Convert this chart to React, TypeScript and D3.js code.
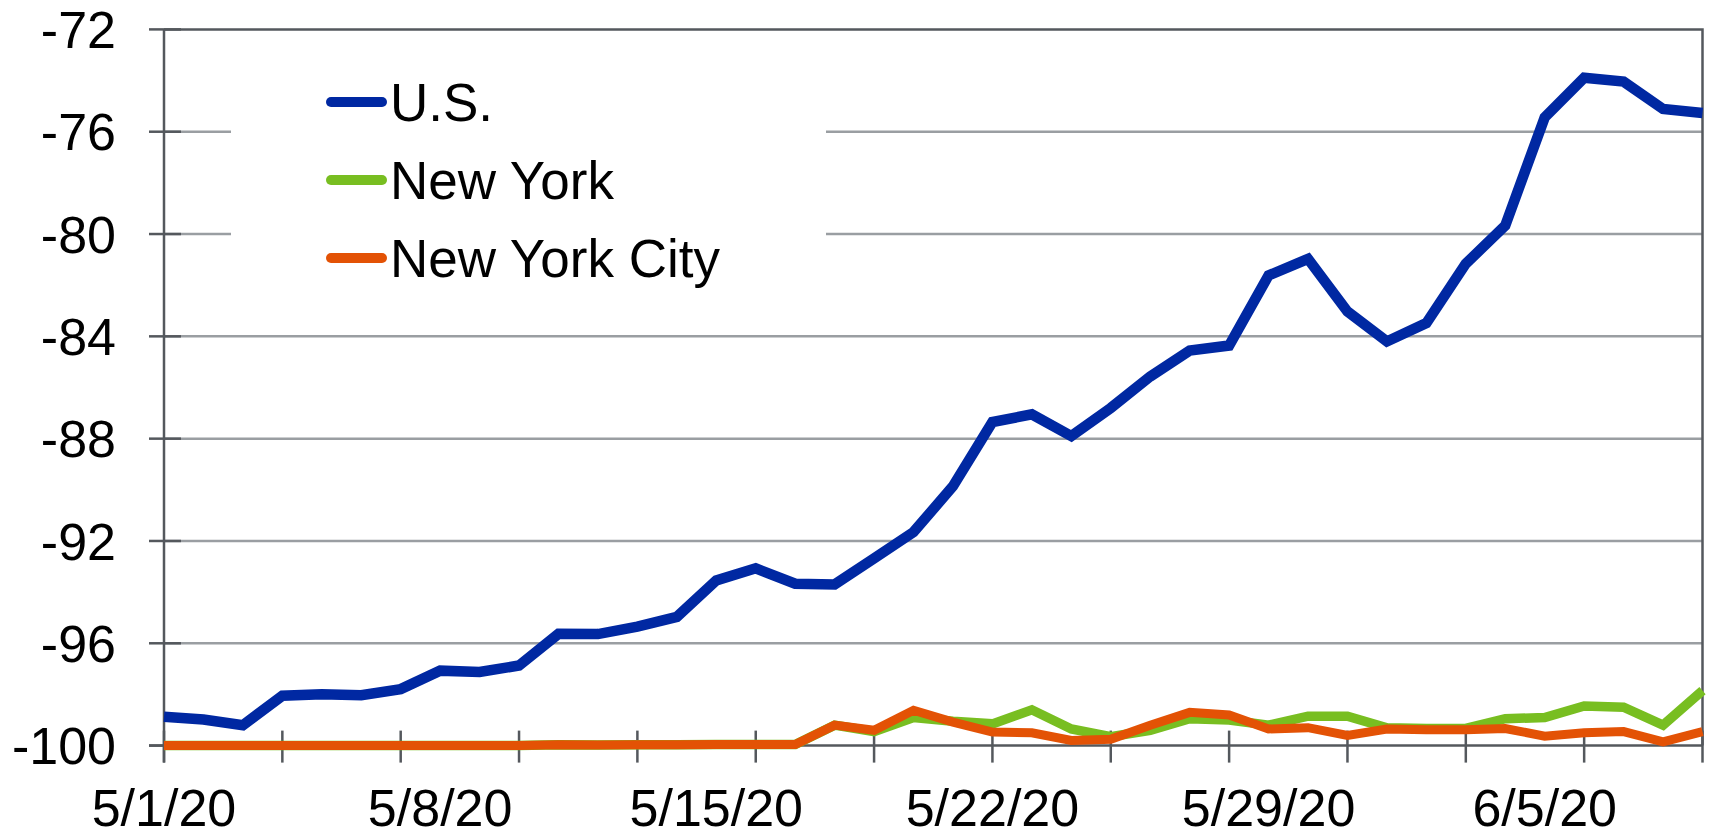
import * as d3 from "d3";
import { useEffect, useRef } from "react";

// days from 5/1/20 through 6/9/20
const startDate = new Date(Date.UTC(2020, 4, 1));
const dayCount = 40;

const seriesNames = ["U.S.", "New York", "New York City"];
const seriesColors = ["#0028A2", "#78BE21", "#E35205"];
const seriesWidths = [10.5, 9.5, 9];

const usValues = [
  -98.87, -98.98, -99.2, -98.05, -97.99, -98.03, -97.79, -97.07, -97.12, -96.87,
  -95.63, -95.64, -95.35, -94.97, -93.54, -93.07, -93.67, -93.7, -92.68, -91.65,
  -89.86, -87.35, -87.05, -87.9, -86.8, -85.57, -84.56, -84.36, -81.62, -80.97,
  -83.03, -84.2, -83.48, -81.16, -79.67, -75.44, -73.89, -74.04, -75.11, -75.27,
];

const nyValues = [
  -100, -100, -100, -100, -100, -100, -100, -100, -100, -100,
  -99.97, -99.98, -99.97, -99.97, -99.96, -99.96, -99.96, -99.2, -99.45, -98.9,
  -99.05, -99.15, -98.6, -99.35, -99.65, -99.4, -98.95, -99.0, -99.2, -98.85,
  -98.85, -99.3, -99.33, -99.33, -98.95, -98.9, -98.45, -98.5, -99.2, -97.85,
];

const nycValues = [
  -100, -100, -100, -100, -100, -100, -100, -100, -100, -100,
  -99.97, -99.98, -99.97, -99.97, -99.96, -99.96, -99.96, -99.2, -99.4, -98.62,
  -99.08, -99.47, -99.5, -99.8, -99.75, -99.2, -98.7, -98.8, -99.35, -99.3,
  -99.6, -99.35, -99.38, -99.38, -99.33, -99.63, -99.5, -99.45, -99.85, -99.45,
];

const yTicks = [-100, -96, -92, -88, -84, -80, -76, -72];

export default function App() {
  const ref = useRef<SVGSVGElement>(null);

  useEffect(() => {
    drawChart();
  }, []);

  function drawChart() {
    const svg = d3.select(ref.current);
    svg.selectAll("*").remove();

    const width = 1709;
    const height = 833;
    const left = 164;
    const right = 1702.5;
    const top = 29.4;
    const bottom = 745.6;
    const font = "'Liberation Sans', Arial, sans-serif";

    const dates = d3.range(dayCount).map((i) => d3.utcDay.offset(startDate, i));

    const x = d3.scaleUtc()
      .domain([dates[0], dates[dates.length - 1]])
      .range([left, right]);

    const y = d3.scaleLinear()
      .domain([-100, -72])
      .range([bottom, top]);

    svg.attr("width", width).attr("height", height);

    // gridlines
    svg.append("g")
      .selectAll("line")
      .data(yTicks.filter((t) => t > -100 && t < -72))
      .join("line")
      .attr("x1", left)
      .attr("x2", right)
      .attr("y1", (d) => y(d))
      .attr("y2", (d) => y(d))
      .attr("stroke", "#9A9EA2")
      .attr("stroke-width", 2.5);

    // legend background hides part of the grid
    svg.append("rect")
      .attr("x", 231)
      .attr("y", 60)
      .attr("width", 826 - 231)
      .attr("height", 240)
      .attr("fill", "white");

    // top and right frame
    svg.append("path")
      .attr("d", `M${left},${top}H${right}V${bottom}`)
      .attr("fill", "none")
      .attr("stroke", "#54585D")
      .attr("stroke-width", 2.5);

    // y axis
    const yAxis = svg.append("g");
    yAxis.append("line")
      .attr("x1", left).attr("x2", left)
      .attr("y1", top).attr("y2", bottom + 17)
      .attr("stroke", "#54585D")
      .attr("stroke-width", 2.5);
    yAxis.selectAll("line.tick")
      .data(yTicks)
      .join("line")
      .attr("class", "tick")
      .attr("x1", left - 15)
      .attr("x2", left + 17)
      .attr("y1", (d) => y(d))
      .attr("y2", (d) => y(d))
      .attr("stroke", "#54585D")
      .attr("stroke-width", 2.5);
    yAxis.selectAll("text")
      .data(yTicks)
      .join("text")
      .attr("x", 116)
      .attr("y", (d) => y(d))
      .attr("dy", "0.36em")
      .attr("text-anchor", "end")
      .style("font-family", font)
      .style("font-size", "52px")
      .style("fill", "#000")
      .text((d) => String(d));

    // x axis
    const xAxis = svg.append("g");
    xAxis.append("line")
      .attr("x1", left - 15).attr("x2", right)
      .attr("y1", bottom).attr("y2", bottom)
      .attr("stroke", "#54585D")
      .attr("stroke-width", 2.5);
    const tickDates = dates.filter((_, i) => i % 3 === 0);
    xAxis.selectAll("line.tick")
      .data(tickDates)
      .join("line")
      .attr("class", "tick")
      .attr("x1", (d) => x(d))
      .attr("x2", (d) => x(d))
      .attr("y1", bottom - 15)
      .attr("y2", bottom + 17)
      .attr("stroke", "#54585D")
      .attr("stroke-width", 2.5);
    const fmt = (d: Date) => `${d.getUTCMonth() + 1}/${d.getUTCDate()}/20`;
    xAxis.selectAll("text")
      .data(dates.filter((_, i) => i % 7 === 0))
      .join("text")
      .attr("x", (d) => x(d))
      .attr("y", 826)
      .attr("text-anchor", "middle")
      .style("font-family", font)
      .style("font-size", "52px")
      .style("fill", "#000")
      .text(fmt);

    // lines
    const series = [usValues, nyValues, nycValues];
    const line = d3.line<number>()
      .x((_, i) => x(dates[i]))
      .y((d) => y(d));

    svg.append("g")
      .selectAll("path")
      .data(series)
      .join("path")
      .attr("d", (d) => line(d))
      .attr("fill", "none")
      .attr("stroke", (_, i) => seriesColors[i])
      .attr("stroke-width", (_, i) => seriesWidths[i])
      .attr("stroke-linejoin", "miter")
      .attr("stroke-miterlimit", 4);

    // legend
    const legend = svg.append("g");
    const legendY = [102, 180, 258];
    seriesNames.forEach((name, i) => {
      legend.append("line")
        .attr("x1", 331)
        .attr("x2", 382)
        .attr("y1", legendY[i])
        .attr("y2", legendY[i])
        .attr("stroke", seriesColors[i])
        .attr("stroke-width", 10)
        .attr("stroke-linecap", "round");
      legend.append("text")
        .attr("x", 390)
        .attr("y", legendY[i])
        .attr("dy", "0.36em")
        .style("font-family", font)
        .style("font-size", "53px")
        .style("fill", "#000")
        .text(name);
    });
  }

  return (
    <div style={{ position: "absolute", left: 0, top: 0 }}>
      <svg ref={ref} style={{ display: "block", background: "white" }} />
    </div>
  );
}
